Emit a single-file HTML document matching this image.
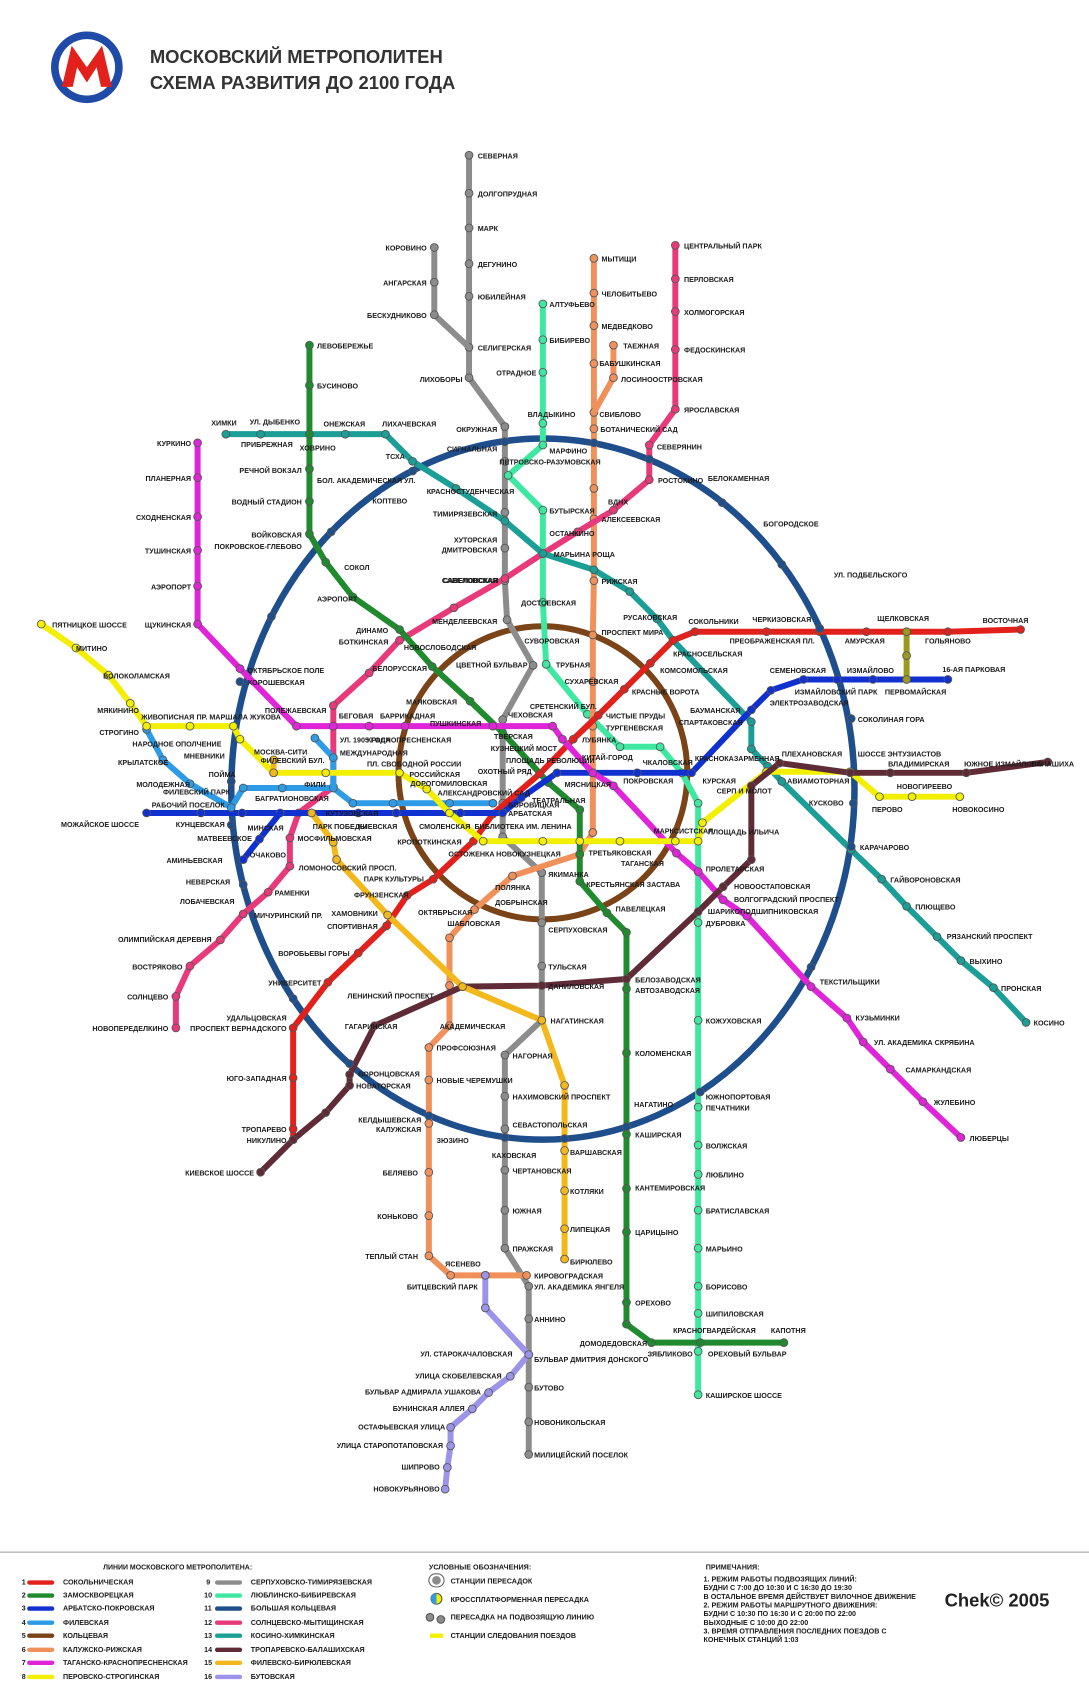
<!DOCTYPE html>
<html><head><meta charset="utf-8">
<style>
html,body{margin:0;padding:0;background:#fff;}
svg{display:block;}
text{font-family:"Liberation Sans",sans-serif;font-weight:bold;font-size:6.6px;fill:#1a1a1a;}
.t{font-size:17px;fill:#333;}
.lg{font-size:6.4px;}
</style></head><body>
<svg width="1089" height="1703" viewBox="0 0 1003 1569" preserveAspectRatio="none" xmlns="http://www.w3.org/2000/svg">
<defs>
<marker id="m1" markerUnits="userSpaceOnUse" markerWidth="10" markerHeight="10" refX="5" refY="5"><circle cx="5" cy="5" r="3.6" fill="#e3211c" stroke="#555" stroke-width=".8"/></marker>
<marker id="m2" markerUnits="userSpaceOnUse" markerWidth="10" markerHeight="10" refX="5" refY="5"><circle cx="5" cy="5" r="3.6" fill="#1f8a2e" stroke="#555" stroke-width=".8"/></marker>
<marker id="m3" markerUnits="userSpaceOnUse" markerWidth="10" markerHeight="10" refX="5" refY="5"><circle cx="5" cy="5" r="3.6" fill="#1030d0" stroke="#555" stroke-width=".8"/></marker>
<marker id="m4" markerUnits="userSpaceOnUse" markerWidth="10" markerHeight="10" refX="5" refY="5"><circle cx="5" cy="5" r="3.6" fill="#2e9be6" stroke="#555" stroke-width=".8"/></marker>
<marker id="m5" markerUnits="userSpaceOnUse" markerWidth="10" markerHeight="10" refX="5" refY="5"><circle cx="5" cy="5" r="3.6" fill="#7a4418" stroke="#555" stroke-width=".8"/></marker>
<marker id="m6" markerUnits="userSpaceOnUse" markerWidth="10" markerHeight="10" refX="5" refY="5"><circle cx="5" cy="5" r="3.6" fill="#f0905a" stroke="#555" stroke-width=".8"/></marker>
<marker id="m7" markerUnits="userSpaceOnUse" markerWidth="10" markerHeight="10" refX="5" refY="5"><circle cx="5" cy="5" r="3.6" fill="#e024d8" stroke="#555" stroke-width=".8"/></marker>
<marker id="m8" markerUnits="userSpaceOnUse" markerWidth="10" markerHeight="10" refX="5" refY="5"><circle cx="5" cy="5" r="3.6" fill="#f2f000" stroke="#555" stroke-width=".8"/></marker>
<marker id="m9" markerUnits="userSpaceOnUse" markerWidth="10" markerHeight="10" refX="5" refY="5"><circle cx="5" cy="5" r="3.6" fill="#8c8c8c" stroke="#555" stroke-width=".8"/></marker>
<marker id="m10" markerUnits="userSpaceOnUse" markerWidth="10" markerHeight="10" refX="5" refY="5"><circle cx="5" cy="5" r="3.6" fill="#3ee8a0" stroke="#555" stroke-width=".8"/></marker>
<marker id="m11" markerUnits="userSpaceOnUse" markerWidth="10" markerHeight="10" refX="5" refY="5"><circle cx="5" cy="5" r="3.6" fill="#1f4e8c" stroke="#555" stroke-width=".8"/></marker>
<marker id="m12" markerUnits="userSpaceOnUse" markerWidth="10" markerHeight="10" refX="5" refY="5"><circle cx="5" cy="5" r="3.6" fill="#e83a7a" stroke="#555" stroke-width=".8"/></marker>
<marker id="m13" markerUnits="userSpaceOnUse" markerWidth="10" markerHeight="10" refX="5" refY="5"><circle cx="5" cy="5" r="3.6" fill="#1a9e96" stroke="#555" stroke-width=".8"/></marker>
<marker id="m14" markerUnits="userSpaceOnUse" markerWidth="10" markerHeight="10" refX="5" refY="5"><circle cx="5" cy="5" r="3.6" fill="#5e2b36" stroke="#555" stroke-width=".8"/></marker>
<marker id="m15" markerUnits="userSpaceOnUse" markerWidth="10" markerHeight="10" refX="5" refY="5"><circle cx="5" cy="5" r="3.6" fill="#f2b81c" stroke="#555" stroke-width=".8"/></marker>
<marker id="m16" markerUnits="userSpaceOnUse" markerWidth="10" markerHeight="10" refX="5" refY="5"><circle cx="5" cy="5" r="3.6" fill="#9c94e8" stroke="#555" stroke-width=".8"/></marker>
<marker id="m17" markerUnits="userSpaceOnUse" markerWidth="10" markerHeight="10" refX="5" refY="5"><circle cx="5" cy="5" r="3.6" fill="#9a9a20" stroke="#555" stroke-width=".8"/></marker>
</defs>

<circle cx="80" cy="62" r="33" fill="#1f4aa8"/>
<circle cx="80" cy="62" r="26" fill="#fff"/>
<path d="M57 80 L66 42 L80 62 L94 42 L103 80 L93 80 L89 62 L80 76 L71 62 L67 80 Z" fill="#e3211c"/>
<text x="138" y="58" class="t">МОСКОВСКИЙ МЕТРОПОЛИТЕН</text>
<text x="138" y="82" class="t">СХЕМА РАЗВИТИЯ ДО 2100 ГОДА</text>

<g fill="none" stroke-width="5.5" stroke-linejoin="round" stroke-linecap="round">
<ellipse cx="500" cy="727" rx="287" ry="323" stroke="#1f4e8c" stroke-width="6"/>
<ellipse cx="500" cy="712" rx="133" ry="135" stroke="#7a4418"/>

<polyline stroke="#8c8c8c" marker-start="url(#m9)" marker-mid="url(#m9)" marker-end="url(#m9)" points="432,143 432,178 432,210 432,243 432,273 432,320 432,348 465,393 465,425 465,472 465,505 465,535 467,571 491,613 463,663 463,740 463,771 499,804 499,850 499,890 499,940 465,972 465,1010 465,1040 465,1078 465,1115 465,1150 487,1185 487,1215 487,1248 487,1278 487,1310 487,1340"/>
<polyline stroke="#8c8c8c" marker-start="url(#m9)" marker-mid="url(#m9)" points="400,228 400,260 400,290 432,320"/>

<polyline stroke="#3ee8a0" marker-start="url(#m10)" marker-mid="url(#m10)" marker-end="url(#m10)" points="500,280 500,313 500,343 500,390 500,410 468,438 500,470 500,510 500,555 503,612 541,658 571,688 608,688 628,712 643,740 643,803 643,850 643,940 643,1020 643,1055 643,1082 643,1115 643,1150 643,1185 643,1210 643,1245 643,1285"/>

<polyline stroke="#f0905a" marker-start="url(#m6)" marker-mid="url(#m6)" marker-end="url(#m6)" points="547,238 547,270 547,300 547,335 547,380 547,395 547,450 547,478 547,535 546,585 546,628 546,669 546,712 546,767 534,787 472,807 437,838 414,864 414,908 414,945 395,965 395,995 395,1035 395,1080 395,1120 395,1157 415,1175 447,1175 485,1175"/>
<polyline stroke="#f0905a" marker-start="url(#m6)" marker-mid="url(#m6)" points="565,318 565,348 547,380"/>

<polyline stroke="#e83a7a" marker-start="url(#m12)" marker-mid="url(#m12)" marker-end="url(#m12)" points="622,226 622,257 622,287 622,322 622,377 598,410 598,442 565,470 532,490 500,510 465,533 418,560 368,590 340,620 307,650 307,669 307,698 307,725 275,749 267,772 267,798 247,822 224,842 203,866 175,890 162,918 162,947"/>

<polyline stroke="#1a9e96" marker-start="url(#m13)" marker-mid="url(#m13)" marker-end="url(#m13)" points="208,400 240,400 285,400 318,400 355,400 380,425 420,450 465,480 500,510 547,525 580,545 605,570 620,590 692,665 692,690 707,706 720,720 784,783 812,810 835,835 863,863 885,885 915,910 945,942"/>

<polyline stroke="#1f8a2e" marker-start="url(#m2)" marker-mid="url(#m2)" marker-end="url(#m2)" points="285,318 285,355 285,400 285,432 285,462 285,492 300,518 325,550 368,580 398,614 433,646 463,675 505,721 534,746 534,787 534,812 559,841 577,859 577,911 577,970 577,1045 577,1095 577,1135 577,1200 577,1220 600,1237 645,1237 722,1237"/>

<polyline stroke="#e3211c" marker-start="url(#m1)" marker-mid="url(#m1)" marker-end="url(#m1)" points="270,1050 270,1040 270,993 270,947 302,905 330,878 356,853 375,825 399,810 436,775 454,750 497,713 528,681 551,659 575,635 599,611 620,590 640,582 706,582 755,582 798,582 835,582 873,582 940,580"/>

<polyline stroke="#1030d0" marker-start="url(#m3)" marker-mid="url(#m3)" marker-end="url(#m3)" points="135,749 185,749 223,749 258,749 287,749 330,749 365,749 424,749 463,749 480,735 513,712 546,712 587,712 637,712 692,654 710,636 740,626 771,626 804,626 835,626 873,626"/>
<polyline stroke="#1030d0" marker-mid="url(#m3)" marker-end="url(#m3)" points="258,749 239,773 224,792"/>

<polyline stroke="#2e9be6" marker-start="url(#m4)" marker-mid="url(#m4)" marker-end="url(#m4)" points="135,672 150,700 175,722 213,744 224,726 260,726 307,726 325,740 362,740 414,740 454,740"/>
<polyline stroke="#2e9be6" marker-mid="url(#m4)" marker-end="url(#m4)" points="307,726 307,698 290,680"/>

<polyline stroke="#e024d8" marker-start="url(#m7)" marker-mid="url(#m7)" marker-end="url(#m7)" points="182,408 182,440 182,476 182,507 182,540 182,575 221,616 273,669 307,669 340,669 373,669 454,669 509,669 518,681 546,712 565,724 623,786 643,803 666,829 688,844 747,909 780,938 795,960 820,985 850,1015 885,1048"/>

<polyline stroke="#f2f000" marker-start="url(#m8)" marker-mid="url(#m8)" marker-end="url(#m8)" points="38,575 70,597 100,622 120,648 135,669 175,669 215,669 221,681 252,712 300,712 368,712 393,727 414,749 445,775 500,775 534,775 571,775 622,775 643,775 647,758 706,711 783,711 810,734 840,734 884,734"/>

<polyline stroke="#5e2b36" marker-start="url(#m14)" marker-mid="url(#m14)" marker-end="url(#m14)" points="965,702 890,712 820,712 783,712 718,703 692,724 692,792 666,817 643,840 577,902 499,908 426,909 345,945 322,990 322,1000 300,1025 270,1050 240,1080"/>

<polyline stroke="#f2b81c" marker-start="url(#m15)" marker-mid="url(#m15)" marker-end="url(#m15)" points="252,712 252,700"/>
<polyline stroke="#f2b81c" marker-start="url(#m15)" marker-mid="url(#m15)" marker-end="url(#m15)" points="287,749 307,776 310,792 357,843 426,909 499,940 520,1000 520,1060 520,1097 520,1132 520,1160"/>

<polyline stroke="#9a9a20" marker-start="url(#m17)" marker-mid="url(#m17)" marker-end="url(#m17)" points="835,582 835,604 835,626"/>

<polyline stroke="#9c94e8" marker-start="url(#m16)" marker-mid="url(#m16)" marker-end="url(#m16)" points="447,1175 447,1205 487,1248 470,1268 450,1283 435,1298 415,1315 415,1332 412,1352 410,1372"/>
</g>

<g fill="#1f4e8c" stroke="#555" stroke-width=".8">
<circle cx="465" cy="407" r="3.6"/>
<circle cx="547" cy="408" r="3.6"/>
<circle cx="598" cy="423" r="3.6"/>
<circle cx="665" cy="463" r="3.6"/>
<circle cx="720" cy="520" r="3.6"/>
<circle cx="755" cy="579" r="3.6"/>
<circle cx="784" cy="662" r="3.6"/>
<circle cx="786" cy="740" r="3.6"/>
<circle cx="784" cy="780" r="3.6"/>
<circle cx="747" cy="891" r="3.6"/>
<circle cx="645" cy="1006" r="3.6"/>
<circle cx="577" cy="1038" r="3.6"/>
<circle cx="520" cy="1049" r="3.6"/>
<circle cx="465" cy="1048" r="3.6"/>
<circle cx="395" cy="1028" r="3.6"/>
<circle cx="322" cy="980" r="3.6"/>
<circle cx="270" cy="920" r="3.6"/>
<circle cx="224" cy="815" r="3.6"/>
<circle cx="213" cy="760" r="3.6"/>
<circle cx="213" cy="720" r="3.6"/>
<circle cx="221" cy="628" r="3.6"/>
<circle cx="250" cy="568" r="3.6"/>
<circle cx="305" cy="490" r="3.6"/>
<circle cx="380" cy="434" r="3.6"/>
</g>

<g>
<text x="440" y="146">СЕВЕРНАЯ</text><text x="440" y="181">ДОЛГОПРУДНАЯ</text><text x="440" y="213">МАРК</text><text x="440" y="246">ДЕГУНИНО</text><text x="440" y="276">ЮБИЛЕЙНАЯ</text><text x="440" y="323">СЕЛИГЕРСКАЯ</text>
<text x="393" y="231" text-anchor="end">КОРОВИНО</text><text x="393" y="263" text-anchor="end">АНГАРСКАЯ</text><text x="393" y="293" text-anchor="end">БЕСКУДНИКОВО</text><text x="426" y="352" text-anchor="end">ЛИХОБОРЫ</text>
<text x="458" y="398" text-anchor="end">ОКРУЖНАЯ</text><text x="458" y="416" text-anchor="end">СИГНАЛЬНАЯ</text><text x="460" y="428">ПЕТРОВСКО-РАЗУМОВСКАЯ</text>
<text x="458" y="476" text-anchor="end">ТИМИРЯЗЕВСКАЯ</text><text x="458" y="500" text-anchor="end">ХУТОРСКАЯ</text><text x="458" y="509" text-anchor="end">ДМИТРОВСКАЯ</text><text x="458" y="537" text-anchor="end">САВЕЛОВСКАЯ</text><text x="458" y="575" text-anchor="end">МЕНДЕЛЕЕВСКАЯ</text>
<text x="506" y="283">АЛТУФЬЕВО</text><text x="506" y="316">БИБИРЕВО</text><text x="494" y="346" text-anchor="end">ОТРАДНОЕ</text><text x="486" y="384">ВЛАДЫКИНО</text><text x="506" y="418">МАРФИНО</text>
<text x="506" y="473">БУТЫРСКАЯ</text><text x="506" y="494">ОСТАНКИНО</text><text x="510" y="513">МАРЬИНА РОЩА</text><text x="480" y="558">ДОСТОЕВСКАЯ</text><text x="483" y="593">СУВОРОВСКАЯ</text><text x="512" y="615">ТРУБНАЯ</text><text x="420" y="615">ЦВЕТНОЙ БУЛЬВАР</text>
<text x="554" y="241">МЫТИЩИ</text><text x="554" y="273">ЧЕЛОБИТЬЕВО</text><text x="554" y="303">МЕДВЕДКОВО</text><text x="574" y="321">ТАЕЖНАЯ</text><text x="552" y="337">БАБУШКИНСКАЯ</text><text x="572" y="352">ЛОСИНООСТРОВСКАЯ</text><text x="552" y="384">СВИБЛОВО</text><text x="553" y="398">БОТАНИЧЕСКИЙ САД</text><text x="560" y="465">ВДНХ</text><text x="554" y="481">АЛЕКСЕЕВСКАЯ</text><text x="554" y="538">РИЖСКАЯ</text><text x="554" y="585">ПРОСПЕКТ МИРА</text><text x="520" y="630">СУХАРЕВСКАЯ</text>
<text x="630" y="229">ЦЕНТРАЛЬНЫЙ ПАРК</text><text x="630" y="260">ПЕРЛОВСКАЯ</text><text x="630" y="290">ХОЛМОГОРСКАЯ</text><text x="630" y="325">ФЕДОСКИНСКАЯ</text><text x="630" y="380">ЯРОСЛАВСКАЯ</text><text x="605" y="414">СЕВЕРЯНИН</text><text x="606" y="445">РОСТОКИНО</text>
<text x="652" y="443">БЕЛОКАМЕННАЯ</text><text x="703" y="485">БОГОРОДСКОЕ</text><text x="768" y="532">УЛ. ПОДБЕЛЬСКОГО</text>
<text x="574" y="571">РУСАКОВСКАЯ</text><text x="634" y="575">СОКОЛЬНИКИ</text><text x="693" y="573">ЧЕРКИЗОВСКАЯ</text><text x="808" y="572">ЩЕЛКОВСКАЯ</text><text x="905" y="574">ВОСТОЧНАЯ</text><text x="672" y="593">ПРЕОБРАЖЕНСКАЯ ПЛ.</text><text x="778" y="593">АМУРСКАЯ</text><text x="852" y="593">ГОЛЬЯНОВО</text>
<text x="620" y="605">КРАСНОСЕЛЬСКАЯ</text><text x="608" y="620">КОМСОМОЛЬСКАЯ</text><text x="582" y="640">КРАСНЫЕ ВОРОТА</text><text x="709" y="620">СЕМЕНОВСКАЯ</text><text x="780" y="620">ИЗМАЙЛОВО</text><text x="868" y="619">16-АЯ ПАРКОВАЯ</text><text x="732" y="640">ИЗМАЙЛОВСКИЙ ПАРК</text><text x="815" y="640">ПЕРВОМАЙСКАЯ</text><text x="709" y="650">ЭЛЕКТРОЗАВОДСКАЯ</text>
<text x="682" y="657" text-anchor="end">БАУМАНСКАЯ</text><text x="684" y="668" text-anchor="end">СПАРТАКОВСКАЯ</text><text x="790" y="665">СОКОЛИНАЯ ГОРА</text>
<text x="558" y="662">ЧИСТЫЕ ПРУДЫ</text><text x="558" y="673">ТУРГЕНЕВСКАЯ</text><text x="488" y="653">СРЕТЕНСКИЙ БУЛ.</text><text x="468" y="661">ЧЕХОВСКАЯ</text><text x="536" y="684">ЛУБЯНКА</text><text x="536" y="700">КИТАЙ-ГОРОД</text>
<text x="592" y="705">ЧКАЛОВСКАЯ</text><text x="640" y="701">КРАСНОКАЗАРМЕННАЯ</text><text x="720" y="697">ПЛЕХАНОВСКАЯ</text><text x="790" y="697">ШОССЕ ЭНТУЗИАСТОВ</text><text x="818" y="706">ВЛАДИМИРСКАЯ</text><text x="888" y="706">ЮЖНОЕ ИЗМАЙЛОВО</text><text x="950" y="706">БАЛАШИХА</text>
<text x="574" y="722">ПОКРОВСКАЯ</text><text x="647" y="722">КУРСКАЯ</text><text x="660" y="731">СЕРП И МОЛОТ</text><text x="725" y="722">АВИАМОТОРНАЯ</text><text x="826" y="727">НОВОГИРЕЕВО</text><text x="803" y="748">ПЕРОВО</text><text x="877" y="748">НОВОКОСИНО</text><text x="745" y="742">КУСКОВО</text>
<text x="520" y="725">МЯСНИЦКАЯ</text><text x="490" y="740">ТЕАТРАЛЬНАЯ</text><text x="466" y="703">ПЛОЩАДЬ РЕВОЛЮЦИИ</text><text x="440" y="713">ОХОТНЫЙ РЯД</text><text x="452" y="692">КУЗНЕЦКИЙ МОСТ</text><text x="455" y="681">ТВЕРСКАЯ</text>
<text x="602" y="768">МАРКСИСТСКАЯ</text><text x="652" y="769">ПЛОЩАДЬ ИЛЬИЧА</text><text x="542" y="788">ТРЕТЬЯКОВСКАЯ</text><text x="572" y="798">ТАГАНСКАЯ</text><text x="540" y="817">КРЕСТЬЯНСКАЯ ЗАСТАВА</text><text x="650" y="803">ПРОЛЕТАРСКАЯ</text><text x="676" y="819">НОВООСТАПОВСКАЯ</text><text x="676" y="831">ВОЛГОГРАДСКИЙ ПРОСПЕКТ</text><text x="652" y="842">ШАРИКОПОДШИПНИКОВСКАЯ</text><text x="650" y="853">ДУБРОВКА</text><text x="567" y="840">ПАВЕЛЕЦКАЯ</text>
<text x="792" y="783">КАРАЧАРОВО</text><text x="820" y="813">ГАЙВОРОНОВСКАЯ</text><text x="843" y="838">ПЛЮЩЕВО</text><text x="872" y="865">РЯЗАНСКИЙ ПРОСПЕКТ</text><text x="893" y="888">ВЫХИНО</text><text x="922" y="913">ПРОНСКАЯ</text><text x="952" y="945">КОСИНО</text>
<text x="755" y="907">ТЕКСТИЛЬЩИКИ</text><text x="788" y="940">КУЗЬМИНКИ</text><text x="805" y="963">УЛ. АКАДЕМИКА СКРЯБИНА</text><text x="834" y="988">САМАРКАНДСКАЯ</text><text x="860" y="1018">ЖУЛЕБИНО</text><text x="893" y="1051">ЛЮБЕРЦЫ</text>
<text x="585" y="905">БЕЛОЗАВОДСКАЯ</text><text x="585" y="915">АВТОЗАВОДСКАЯ</text><text x="505" y="911">ДАНИЛОВСКАЯ</text><text x="505" y="893">ТУЛЬСКАЯ</text><text x="505" y="859">СЕРПУХОВСКАЯ</text><text x="507" y="943">НАГАТИНСКАЯ</text><text x="650" y="943">КОЖУХОВСКАЯ</text><text x="585" y="973">КОЛОМЕНСКАЯ</text>
<text x="650" y="1013">ЮЖНОПОРТОВАЯ</text><text x="650" y="1023">ПЕЧАТНИКИ</text><text x="620" y="1020" text-anchor="end">НАГАТИНО</text><text x="585" y="1048">КАШИРСКАЯ</text><text x="650" y="1058">ВОЛЖСКАЯ</text><text x="650" y="1085">ЛЮБЛИНО</text><text x="585" y="1097">КАНТЕМИРОВСКАЯ</text><text x="650" y="1118">БРАТИСЛАВСКАЯ</text><text x="585" y="1138">ЦАРИЦЫНО</text><text x="650" y="1153">МАРЬИНО</text><text x="650" y="1188">БОРИСОВО</text><text x="585" y="1203">ОРЕХОВО</text><text x="650" y="1213">ШИПИЛОВСКАЯ</text>
<text x="620" y="1228">КРАСНОГВАРДЕЙСКАЯ</text><text x="710" y="1228">КАПОТНЯ</text><text x="596" y="1240" text-anchor="end">ДОМОДЕДОВСКАЯ</text><text x="638" y="1250" text-anchor="end">ЗЯБЛИКОВО</text><text x="652" y="1250">ОРЕХОВЫЙ БУЛЬВАР</text><text x="650" y="1288">КАШИРСКОЕ ШОССЕ</text>
<text x="472" y="975">НАГОРНАЯ</text><text x="472" y="1013">НАХИМОВСКИЙ ПРОСПЕКТ</text><text x="472" y="1039">СЕВАСТОПОЛЬСКАЯ</text><text x="453" y="1067">КАХОВСКАЯ</text><text x="525" y="1064">ВАРШАВСКАЯ</text><text x="472" y="1081">ЧЕРТАНОВСКАЯ</text><text x="525" y="1100">КОТЛЯКИ</text><text x="472" y="1118">ЮЖНАЯ</text><text x="525" y="1135">ЛИПЕЦКАЯ</text><text x="472" y="1153">ПРАЖСКАЯ</text><text x="525" y="1165">БИРЮЛЕВО</text><text x="492" y="1178">КИРОВОГРАДСКАЯ</text><text x="492" y="1188">УЛ. АКАДЕМИКА ЯНГЕЛЯ</text><text x="492" y="1218">АННИНО</text><text x="492" y="1255">БУЛЬВАР ДМИТРИЯ ДОНСКОГО</text><text x="492" y="1281">БУТОВО</text><text x="492" y="1313">НОВОНИКОЛЬСКАЯ</text><text x="492" y="1343">МИЛИЦЕЙСКИЙ ПОСЕЛОК</text>
<text x="412" y="853">ШАБЛОВСКАЯ</text><text x="405" y="948">АКАДЕМИЧЕСКАЯ</text><text x="402" y="968">ПРОФСОЮЗНАЯ</text><text x="402" y="998">НОВЫЕ ЧЕРЕМУШКИ</text><text x="402" y="1053">ЗЮЗИНО</text><text x="388" y="1034" text-anchor="end">КЕЛДЫШЕВСКАЯ</text><text x="388" y="1043" text-anchor="end">КАЛУЖСКАЯ</text><text x="385" y="1083" text-anchor="end">БЕЛЯЕВО</text><text x="385" y="1123" text-anchor="end">КОНЬКОВО</text><text x="385" y="1160" text-anchor="end">ТЕПЛЫЙ СТАН</text><text x="410" y="1167">ЯСЕНЕВО</text><text x="440" y="1188" text-anchor="end">БИТЦЕВСКИЙ ПАРК</text>
<text x="472" y="1250" text-anchor="end">УЛ. СТАРОКАЧАЛОВСКАЯ</text><text x="462" y="1270" text-anchor="end">УЛИЦА СКОБЕЛЕВСКАЯ</text><text x="443" y="1285" text-anchor="end">БУЛЬВАР АДМИРАЛА УШАКОВА</text><text x="428" y="1300" text-anchor="end">БУНИНСКАЯ АЛЛЕЯ</text><text x="410" y="1317" text-anchor="end">ОСТАФЬЕВСКАЯ УЛИЦА</text><text x="408" y="1334" text-anchor="end">УЛИЦА СТАРОПОТАПОВСКАЯ</text><text x="405" y="1354" text-anchor="end">ШИПРОВО</text><text x="405" y="1374" text-anchor="end">НОВОКУРЬЯНОВО</text>
<text x="366" y="948" text-anchor="end">ГАГАРИНСКАЯ</text><text x="330" y="992">ВОРОНЦОВСКАЯ</text><text x="328" y="1003">НОВАТОРСКАЯ</text><text x="320" y="920">ЛЕНИНСКИЙ ПРОСПЕКТ</text><text x="264" y="940" text-anchor="end">УДАЛЬЦОВСКАЯ</text><text x="264" y="950" text-anchor="end">ПРОСПЕКТ ВЕРНАДСКОГО</text><text x="264" y="996" text-anchor="end">ЮГО-ЗАПАДНАЯ</text><text x="264" y="1043" text-anchor="end">ТРОПАРЕВО</text><text x="264" y="1053" text-anchor="end">НИКУЛИНО</text><text x="234" y="1083" text-anchor="end">КИЕВСКОЕ ШОССЕ</text>
<text x="296" y="908" text-anchor="end">УНИВЕРСИТЕТ</text><text x="322" y="881" text-anchor="end">ВОРОБЬЕВЫ ГОРЫ</text><text x="348" y="844" text-anchor="end">ХАМОВНИКИ</text><text x="348" y="856" text-anchor="end">СПОРТИВНАЯ</text><text x="326" y="827">ФРУНЗЕНСКАЯ</text><text x="335" y="812">ПАРК КУЛЬТУРЫ</text><text x="385" y="843">ОКТЯБРЬСКАЯ</text><text x="456" y="820">ПОЛЯНКА</text><text x="456" y="834">ДОБРЫНСКАЯ</text><text x="505" y="808">ЯКИМАНКА</text>
<text x="275" y="802">ЛОМОНОСОВСКИЙ ПРОСП.</text><text x="274" y="775">МОСФИЛЬМОВСКАЯ</text><text x="253" y="825">РАМЕНКИ</text><text x="234" y="846">МИЧУРИНСКИЙ ПР.</text><text x="195" y="868" text-anchor="end">ОЛИМПИЙСКАЯ ДЕРЕВНЯ</text><text x="168" y="893" text-anchor="end">ВОСТРЯКОВО</text><text x="155" y="921" text-anchor="end">СОЛНЦЕВО</text><text x="155" y="950" text-anchor="end">НОВОПЕРЕДЕЛКИНО</text>
<text x="216" y="833" text-anchor="end">ЛОБАЧЕВСКАЯ</text><text x="212" y="815" text-anchor="end">НЕВЕРСКАЯ</text><text x="205" y="795" text-anchor="end">АМИНЬЕВСКАЯ</text><text x="230" y="790">ОЧАКОВО</text><text x="232" y="775" text-anchor="end">МАТВЕЕВСКОЕ</text><text x="228" y="765">МИНСКАЯ</text><text x="207" y="762" text-anchor="end">КУНЦЕВСКАЯ</text><text x="128" y="762" text-anchor="end">МОЖАЙСКОЕ ШОССЕ</text>
<text x="288" y="764">ПАРК ПОБЕДЫ</text><text x="300" y="752">КУТУЗОВСКАЯ</text><text x="330" y="764">КИЕВСКАЯ</text><text x="386" y="764">СМОЛЕНСКАЯ</text><text x="437" y="764">БИБЛИОТЕКА ИМ. ЛЕНИНА</text><text x="468" y="752">АРБАТСКАЯ</text><text x="468" y="744">БОРОВИЦКАЯ</text><text x="403" y="733">АЛЕКСАНДРОВСКИЙ САД</text><text x="378" y="724">ДОРОГОМИЛОВСКАЯ</text>
<text x="366" y="778">КРОПОТКИНСКАЯ</text><text x="413" y="789">ОСТОЖЕНКА</text><text x="457" y="789">НОВОКУЗНЕЦКАЯ</text>
<text x="338" y="706">ПЛ. СВОБОДНОЙ РОССИИ</text><text x="377" y="716">РОССИЙСКАЯ</text><text x="313" y="696">МЕЖДУНАРОДНАЯ</text><text x="313" y="684">УЛ. 1905 ГОДА</text><text x="338" y="684">КРАСНОПРЕСНЕНСКАЯ</text><text x="312" y="662">БЕГОВАЯ</text><text x="350" y="662">БАРРИКАДНАЯ</text><text x="396" y="669">ПУШКИНСКАЯ</text><text x="374" y="649">МАЯКОВСКАЯ</text><text x="343" y="618">БЕЛОРУССКАЯ</text><text x="372" y="599">НОВОСЛОБОДСКАЯ</text>
<text x="300" y="725" text-anchor="end">ФИЛИ</text><text x="235" y="738">БАГРАТИОНОВСКАЯ</text><text x="234" y="695">МОСКВА-СИТИ</text><text x="240" y="703">ФИЛЕВСКИЙ БУЛ.</text><text x="212" y="732" text-anchor="end">ФИЛЕВСКИЙ ПАРК</text><text x="207" y="744" text-anchor="end">РАБОЧИЙ ПОСЕЛОК</text>
<text x="217" y="716" text-anchor="end">ПОЙМА</text><text x="207" y="699" text-anchor="end">МНЕВНИКИ</text><text x="204" y="688" text-anchor="end">НАРОДНОЕ ОПОЛЧЕНИЕ</text><text x="155" y="705" text-anchor="end">КРЫЛАТСКОЕ</text><text x="175" y="725" text-anchor="end">МОЛОДЕЖНАЯ</text>
<text x="128" y="677" text-anchor="end">СТРОГИНО</text><text x="128" y="657" text-anchor="end">МЯКИНИНО</text><text x="130" y="663">ЖИВОПИСНАЯ</text><text x="181" y="663">ПР. МАРШАЛА ЖУКОВА</text><text x="244" y="657">ПОЛЕЖАЕВСКАЯ</text><text x="228" y="620">ОКТЯБРЬСКОЕ ПОЛЕ</text><text x="228" y="631">ХОРОШЕВСКАЯ</text>
<text x="48" y="578">ПЯТНИЦКОЕ ШОССЕ</text><text x="70" y="600">МИТИНО</text><text x="95" y="625">ВОЛОКОЛАМСКАЯ</text>
<text x="176" y="411" text-anchor="end">КУРКИНО</text><text x="176" y="443" text-anchor="end">ПЛАНЕРНАЯ</text><text x="176" y="479" text-anchor="end">СХОДНЕНСКАЯ</text><text x="176" y="510" text-anchor="end">ТУШИНСКАЯ</text><text x="176" y="543" text-anchor="end">АЭРОПОРТ</text><text x="176" y="578" text-anchor="end">ЩУКИНСКАЯ</text>
<text x="292" y="321">ЛЕВОБЕРЕЖЬЕ</text><text x="292" y="358">БУСИНОВО</text><text x="218" y="392" text-anchor="end">ХИМКИ</text><text x="230" y="391">УЛ. ДЫБЕНКО</text><text x="298" y="393">ОНЕЖСКАЯ</text><text x="352" y="393">ЛИХАЧЕВСКАЯ</text><text x="222" y="412">ПРИБРЕЖНАЯ</text><text x="276" y="415">ХОВРИНО</text><text x="278" y="436" text-anchor="end">РЕЧНОЙ ВОКЗАЛ</text><text x="292" y="445">БОЛ. АКАДЕМИЧЕСКАЯ УЛ.</text><text x="278" y="465" text-anchor="end">ВОДНЫЙ СТАДИОН</text><text x="278" y="495" text-anchor="end">ВОЙКОВСКАЯ</text><text x="278" y="506" text-anchor="end">ПОКРОВСКОЕ-ГЛЕБОВО</text>
<text x="373" y="423" text-anchor="end">ТСХА</text><text x="343" y="464">КОПТЕВО</text><text x="393" y="455">КРАСНОСТУДЕНЧЕСКАЯ</text><text x="317" y="525">СОКОЛ</text><text x="292" y="554">АЭРОПОРТ</text><text x="328" y="583">ДИНАМО</text><text x="312" y="594">БОТКИНСКАЯ</text><text x="408" y="537">САВЕЛОВСКАЯ</text>
</g>

<line x1="0" y1="1430" x2="1003" y2="1430" stroke="#999" stroke-width="1"/>
<g class="lg">
<text x="95" y="1446" class="lg">ЛИНИИ МОСКОВСКОГО МЕТРОПОЛИТЕНА:</text>
<g stroke-width="4" stroke-linecap="round">
<line x1="27" y1="1458" x2="48" y2="1458" stroke="#e3211c"/><line x1="27" y1="1470" x2="48" y2="1470" stroke="#1f8a2e"/><line x1="27" y1="1482" x2="48" y2="1482" stroke="#1030d0"/><line x1="27" y1="1495" x2="48" y2="1495" stroke="#2e9be6"/><line x1="27" y1="1507" x2="48" y2="1507" stroke="#7a4418"/><line x1="27" y1="1520" x2="48" y2="1520" stroke="#f0905a"/><line x1="27" y1="1532" x2="48" y2="1532" stroke="#e024d8"/><line x1="27" y1="1545" x2="48" y2="1545" stroke="#f2f000"/>
<line x1="200" y1="1458" x2="221" y2="1458" stroke="#8c8c8c"/><line x1="200" y1="1470" x2="221" y2="1470" stroke="#3ee8a0"/><line x1="200" y1="1482" x2="221" y2="1482" stroke="#1f4e8c"/><line x1="200" y1="1495" x2="221" y2="1495" stroke="#e83a7a"/><line x1="200" y1="1507" x2="221" y2="1507" stroke="#1a9e96"/><line x1="200" y1="1520" x2="221" y2="1520" stroke="#5e2b36"/><line x1="200" y1="1532" x2="221" y2="1532" stroke="#f2b81c"/><line x1="200" y1="1545" x2="221" y2="1545" stroke="#9c94e8"/>
</g>
<text x="20" y="1460">1</text><text x="58" y="1460">СОКОЛЬНИЧЕСКАЯ</text>
<text x="20" y="1472">2</text><text x="58" y="1472">ЗАМОСКВОРЕЦКАЯ</text>
<text x="20" y="1484">3</text><text x="58" y="1484">АРБАТСКО-ПОКРОВСКАЯ</text>
<text x="20" y="1497">4</text><text x="58" y="1497">ФИЛЕВСКАЯ</text>
<text x="20" y="1509">5</text><text x="58" y="1509">КОЛЬЦЕВАЯ</text>
<text x="20" y="1522">6</text><text x="58" y="1522">КАЛУЖСКО-РИЖСКАЯ</text>
<text x="20" y="1534">7</text><text x="58" y="1534">ТАГАНСКО-КРАСНОПРЕСНЕНСКАЯ</text>
<text x="20" y="1547">8</text><text x="58" y="1547">ПЕРОВСКО-СТРОГИНСКАЯ</text>
<text x="190" y="1460">9</text><text x="231" y="1460">СЕРПУХОВСКО-ТИМИРЯЗЕВСКАЯ</text>
<text x="188" y="1472">10</text><text x="231" y="1472">ЛЮБЛИНСКО-БИБИРЕВСКАЯ</text>
<text x="188" y="1484">11</text><text x="231" y="1484">БОЛЬШАЯ КОЛЬЦЕВАЯ</text>
<text x="188" y="1497">12</text><text x="231" y="1497">СОЛНЦЕВСКО-МЫТИЩИНСКАЯ</text>
<text x="188" y="1509">13</text><text x="231" y="1509">КОСИНО-ХИМКИНСКАЯ</text>
<text x="188" y="1522">14</text><text x="231" y="1522">ТРОПАРЕВСКО-БАЛАШИХСКАЯ</text>
<text x="188" y="1534">15</text><text x="231" y="1534">ФИЛЕВСКО-БИРЮЛЕВСКАЯ</text>
<text x="188" y="1547">16</text><text x="231" y="1547">БУТОВСКАЯ</text>
<text x="395" y="1446">УСЛОВНЫЕ ОБОЗНАЧЕНИЯ:</text>
<rect x="395" y="1450" width="14" height="12" rx="6" fill="#fff" stroke="#666"/><circle cx="402" cy="1456" r="4" fill="#8c8c8c"/>
<text x="415" y="1459">СТАНЦИИ ПЕРЕСАДОК</text>
<circle cx="402" cy="1473" r="5" fill="#f2f000" stroke="#555"/><path d="M402 1468 A5 5 0 0 0 402 1478 Z" fill="#2e9be6"/>
<text x="415" y="1476">КРОССПЛАТФОРМЕННАЯ ПЕРЕСАДКА</text>
<circle cx="396" cy="1490" r="3.5" fill="#8c8c8c" stroke="#555"/><circle cx="406" cy="1492" r="3.5" fill="#8c8c8c" stroke="#555"/>
<text x="415" y="1492">ПЕРЕСАДКА НА ПОДВОЗЯЩУЮ ЛИНИЮ</text>
<line x1="396" y1="1507" x2="408" y2="1507" stroke="#f2f000" stroke-width="4"/>
<text x="415" y="1509">СТАНЦИИ СЛЕДОВАНИЯ ПОЕЗДОВ</text>
<text x="650" y="1446">ПРИМЕЧАНИЯ:</text>
<text x="648" y="1457">1. РЕЖИМ РАБОТЫ ПОДВОЗЯЩИХ ЛИНИЙ:</text>
<text x="648" y="1465">БУДНИ С 7:00 ДО 10:30 И С 16:30 ДО 19:30</text>
<text x="648" y="1473">В ОСТАЛЬНОЕ ВРЕМЯ ДЕЙСТВУЕТ ВИЛОЧНОЕ ДВИЖЕНИЕ</text>
<text x="648" y="1481">2. РЕЖИМ РАБОТЫ МАРШРУТНОГО ДВИЖЕНИЯ:</text>
<text x="648" y="1489">БУДНИ С 10:30 ПО 16:30 И С 20:00 ПО 22:00</text>
<text x="648" y="1497">ВЫХОДНЫЕ С 10:00 ДО 22:00</text>
<text x="648" y="1505">3. ВРЕМЯ ОТПРАВЛЕНИЯ ПОСЛЕДНИХ ПОЕЗДОВ С</text>
<text x="648" y="1513">КОНЕЧНЫХ СТАНЦИЙ 1:03</text>
<text x="870" y="1480" style="font-size:17px;fill:#222;">Chek© 2005</text>
</g>
</svg>
</body></html>
